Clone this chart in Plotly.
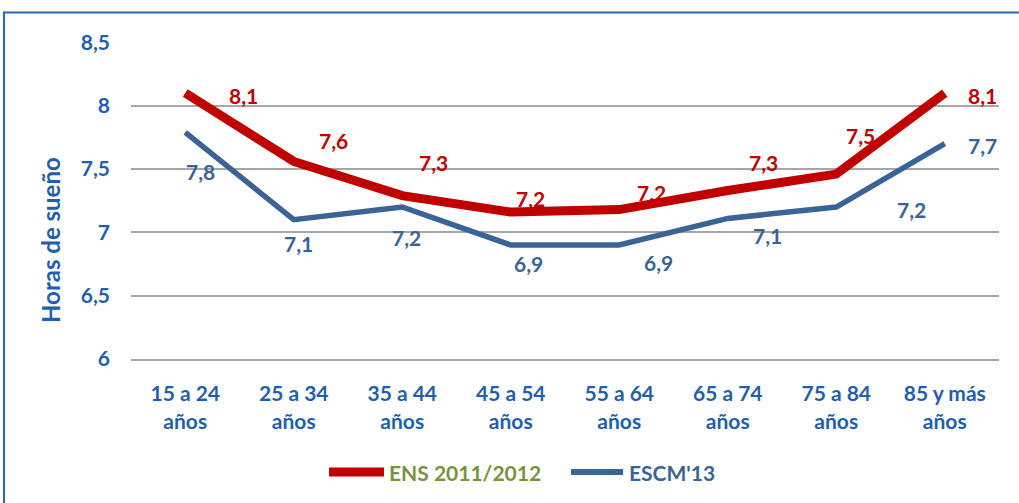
import plotly.graph_objects as go

# ---- data ----
categories = ["15 a 24<br>años", "25 a 34<br>años", "35 a 44<br>años", "45 a 54<br>años",
              "55 a 64<br>años", "65 a 74<br>años", "75 a 84<br>años", "85 y más<br>años"]
ens_values = [8.10, 7.56, 7.29, 7.16, 7.18, 7.33, 7.46, 8.10]
escm_values = [7.79, 7.10, 7.20, 6.90, 6.90, 7.11, 7.20, 7.70]
ens_name = "ENS 2011/2012"
escm_name = "ESCM'13"
y_tickvals = [6, 6.5, 7, 7.5, 8, 8.5]
y_ticktext = ["6", "6,5", "7", "7,5", "8", "8,5"]
y_title = "Horas de sueño"

# ---- layout constants ----
W, H = 1019, 503
# target window-pixel plot box: left 131, right 999, top 42, bottom 359
ML = 131
MT = 42
MR = W - 999
MB = H - 359
FONT = "Lato"
RED = "#C00000"
BLUE_LINE = "#3A6496"
AXIS_BLUE = "#1F5FAD"
GREEN = "#77933C"

# label pixel offsets (dx, dy up)
ens_off = [(58, -2), (40, 21), (31, 33), (20, 14), (32, 17), (36, 28), (24, 39), (38, -2)]
escm_off = [(15, -39), (5, -24), (4, -30), (18, -18), (39, -17), (40, -17), (75, -2), (38, -2)]

PW = W - ML - MR
PH = H - MT - MB
def px_x(px):  # window pixel -> paper
    return (px - ML) / PW
def px_y(py):
    return (H - MB - py) / PH

fig = go.Figure()
fig.add_trace(go.Scatter(x=categories, y=ens_values, mode="lines", name=ens_name,
                         line=dict(color=RED, width=9), showlegend=False, hoverinfo="skip"))
fig.add_trace(go.Scatter(x=categories, y=escm_values, mode="lines", name=escm_name,
                         line=dict(color=BLUE_LINE, width=5.5), showlegend=False, hoverinfo="skip"))

def fmt(v):
    return f"{v:.1f}".replace(".", ",")

annotations = []
for c, v, (dx, dy) in zip(categories, ens_values, ens_off):
    annotations.append(dict(x=c, y=v, text=fmt(v), showarrow=False, xshift=dx, yshift=dy,
                            xanchor="center", yanchor="middle",
                            font=dict(family=FONT, size=21, color=RED, weight="bold")))
for c, v, (dx, dy) in zip(categories, escm_values, escm_off):
    annotations.append(dict(x=c, y=v, text=fmt(v), showarrow=False, xshift=dx, yshift=dy,
                            xanchor="center", yanchor="middle",
                            font=dict(family=FONT, size=21, color=BLUE_LINE, weight="bold")))

# axis title
annotations.append(dict(xref="paper", yref="paper", x=px_x(50), y=px_y(240), text=y_title,
                        textangle=-90, showarrow=False, xanchor="center", yanchor="middle",
                        font=dict(family=FONT, size=24, color=AXIS_BLUE, weight="bold")))

# manual legend
leg_y = px_y(472)
annotations.append(dict(xref="paper", yref="paper", x=px_x(387), y=leg_y, text=ens_name,
                        xanchor="left", yanchor="middle", showarrow=False,
                        font=dict(family=FONT, size=21, color=GREEN, weight="bold")))
annotations.append(dict(xref="paper", yref="paper", x=px_x(627), y=leg_y, text=escm_name,
                        xanchor="left", yanchor="middle", showarrow=False,
                        font=dict(family=FONT, size=21, color=BLUE_LINE, weight="bold")))

shapes = [
    dict(type="line", xref="paper", yref="paper", x0=px_x(329), x1=px_x(384), y0=leg_y, y1=leg_y,
         line=dict(color=RED, width=9)),
    dict(type="line", xref="paper", yref="paper", x0=px_x(571), x1=px_x(623), y0=leg_y, y1=leg_y,
         line=dict(color=BLUE_LINE, width=6)),
    # frame
    dict(type="rect", xref="paper", yref="paper", x0=px_x(4), x1=px_x(1100), y0=px_y(600), y1=px_y(12.5),
         line=dict(color="#2A68B5", width=2), fillcolor="rgba(0,0,0,0)", layer="below"),
]

fig.update_layout(
    width=W, height=H,
    margin=dict(l=ML, r=MR, t=MT, b=MB),
    paper_bgcolor="white", plot_bgcolor="white",
    showlegend=False,
    annotations=annotations, shapes=shapes,
    xaxis=dict(type="category", range=[-0.5, 7.5], showgrid=False, showline=True,
               linecolor="#A6A6A6", linewidth=2, ticks="", ticklabelstandoff=15,
               tickfont=dict(family=FONT, size=21, color=AXIS_BLUE, weight="bold")),
    yaxis=dict(range=[6, 8.503], tickvals=y_tickvals, ticktext=y_ticktext, showgrid=True,
               gridcolor="#A6A6A6", gridwidth=2, zeroline=False, showline=False,
               ticks="", ticklabelstandoff=20,
               tickfont=dict(family=FONT, size=21, color=AXIS_BLUE, weight="bold")),
)

fig.write_html("out.html", config={"displayModeBar": False},
               post_script="document.body.style.margin='0px';document.body.style.overflow='hidden';")
